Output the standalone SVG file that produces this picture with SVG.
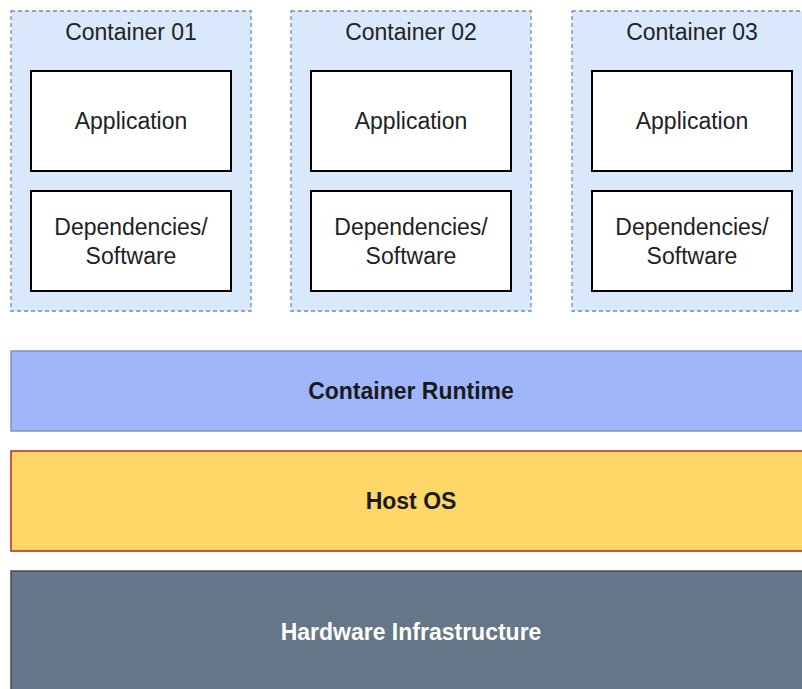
<svg xmlns="http://www.w3.org/2000/svg" width="802" height="689" viewBox="0 0 802 689">
<style>
.cont{fill:#dae8fc;stroke:#6c8ebf;stroke-width:1.3;stroke-dasharray:4 3}
.box{fill:#ffffff;stroke:#000000;stroke-width:2}
.t{font-family:"Liberation Sans",Arial,sans-serif;font-size:23px;fill:#222222;text-anchor:middle;dominant-baseline:central}
.b{font-weight:bold;fill:#1a1a1a}
.w{font-weight:bold;fill:#ffffff}
</style>
<rect width="802" height="689" fill="#ffffff"/>
<g id="container01">
<rect class="cont" x="11" y="11" width="240" height="300"/>
<text class="t" x="131" y="32">Container 01</text>
<rect class="box" x="31" y="71" width="200" height="100"/>
<text class="t" x="131" y="121">Application</text>
<rect class="box" x="31" y="191" width="200" height="100"/>
<text class="t" x="131" y="227">Dependencies/</text>
<text class="t" x="131" y="256">Software</text>
</g>
<g id="container02">
<rect class="cont" x="291" y="11" width="240" height="300"/>
<text class="t" x="411" y="32">Container 02</text>
<rect class="box" x="311" y="71" width="200" height="100"/>
<text class="t" x="411" y="121">Application</text>
<rect class="box" x="311" y="191" width="200" height="100"/>
<text class="t" x="411" y="227">Dependencies/</text>
<text class="t" x="411" y="256">Software</text>
</g>
<g id="container03">
<rect class="cont" x="572" y="11" width="240" height="300"/>
<text class="t" x="692" y="32">Container 03</text>
<rect class="box" x="592" y="71" width="200" height="100"/>
<text class="t" x="692" y="121">Application</text>
<rect class="box" x="592" y="191" width="200" height="100"/>
<text class="t" x="692" y="227">Dependencies/</text>
<text class="t" x="692" y="256">Software</text>
</g>
<g id="runtime">
<rect x="11" y="351" width="810" height="80" fill="#9fb6fa" stroke="#8192b8" stroke-width="1.5"/>
<text class="t b" x="411" y="391">Container Runtime</text>
</g>
<g id="hostos">
<rect x="11" y="451" width="810" height="100" fill="#fdd767" stroke="#b8231b" stroke-width="1.5"/>
<text class="t b" x="411" y="501">Host OS</text>
</g>
<g id="hardware">
<rect x="11" y="571" width="810" height="130" fill="#647687" stroke="#3f4d5c" stroke-width="1.5"/>
<text class="t w" x="411" y="632">Hardware Infrastructure</text>
</g>
<g id="connectors"></g>
</svg>
